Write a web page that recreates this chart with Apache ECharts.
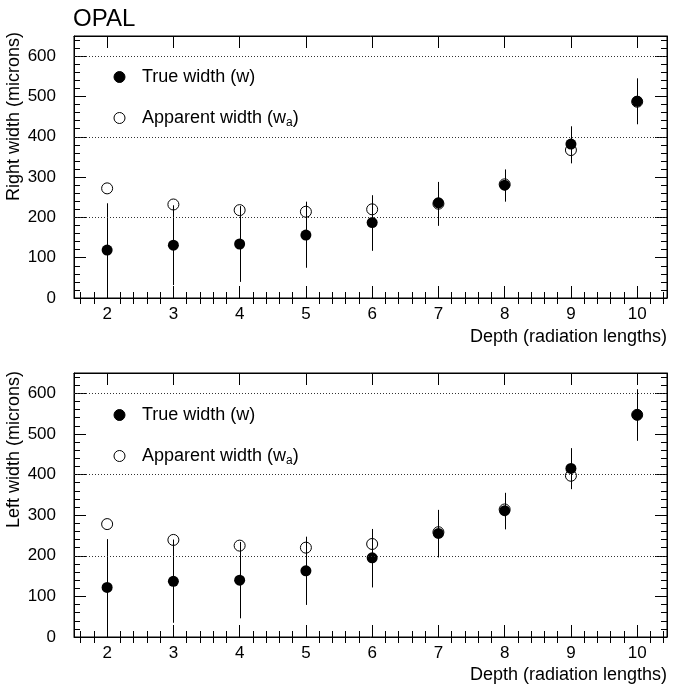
<!DOCTYPE html>
<html><head><meta charset="utf-8">
<script src="https://cdn.jsdelivr.net/npm/echarts@6/dist/echarts.min.js"></script>
<style>html,body{margin:0;padding:0;background:#fff}#c{width:673px;height:685px}</style>
</head><body><div id="c"></div>
<script>
// ---- data ----
const depth = [2, 3, 4, 5, 6, 7, 8, 9, 10];

const rightTrue    = [119, 131, 134, 156, 187, 236, 280, 382, 488];
const rightApp     = [272, 232, 218, 214, 220, 234, 282, 367, 487];
const rightErrLow  = [0, 32, 40, 75, 117, 179, 239, 334, 431];
const rightErrHigh = [235, 230, 228, 239, 255, 288, 319, 426, 545];

const leftTrue    = [122, 137, 140, 163, 195, 255, 311, 415, 547];
const leftApp     = [278, 239, 225, 220, 229, 258, 314, 397, 547];
const leftErrLow  = [0, 35, 46, 79, 122, 196, 265, 364, 483];
const leftErrHigh = [241, 240, 234, 247, 266, 313, 355, 465, 610];

const xMajor = [2, 3, 4, 5, 6, 7, 8, 9, 10];
const yMajor = [0, 100, 200, 300, 400, 500, 600];
const gridLines = [200, 400, 600];

const nameTrue = 'True width (w)';
const nameApp = 'Apparent width (wa)';
const xTitle = 'Depth (radiation lengths)';
const yTitles = ['Right width (microns)', 'Left width (microns)'];

const xMinor = [];
for (let k = 8; k <= 52; k++) { if (k % 5 !== 0) xMinor.push(k * 2 / 10); }
const yMinor = [];
for (let v = 20; v <= 640; v += 20) { if (v % 100 !== 0) yMinor.push(v); }

// ---- chart ----
const FONT = '"Liberation Sans", Arial, Helvetica, sans-serif';
const FS = 17;
const FT = 18;
const XMIN = 1.5, XMAX = 10.45, YMIN = 0, YMAX = 650;

const grids = [
  { left: 74, right: 6, top: 36, height: 262 },
  { left: 74, right: 6, top: 373, height: 264 }
];

function xAxes(g) {
  const base = { type: 'value', gridIndex: g, min: XMIN, max: XMAX, splitLine: { show: false } };
  const line = { show: true, onZero: false, lineStyle: { color: '#000', width: 1 } };
  return [
    Object.assign({}, base, { position: 'bottom', axisLine: line,
      axisTick: { show: true, inside: true, length: 12, customValues: xMajor, lineStyle: { color: '#000' } },
      axisLabel: { show: true, customValues: xMajor, margin: 8, fontSize: FS, fontFamily: FONT, color: '#000' } }),
    Object.assign({}, base, { position: 'bottom', axisLine: { show: false },
      axisTick: { show: true, inside: true, length: 6, customValues: xMinor, lineStyle: { color: '#000' } },
      axisLabel: { show: false } }),
    Object.assign({}, base, { position: 'top', axisLine: line,
      axisTick: { show: true, inside: true, length: 12, customValues: xMajor, lineStyle: { color: '#000' } },
      axisLabel: { show: false } }),
    Object.assign({}, base, { position: 'top', axisLine: { show: false },
      axisTick: { show: true, inside: true, length: 6, customValues: xMinor, lineStyle: { color: '#000' } },
      axisLabel: { show: false } })
  ];
}
function yAxes(g) {
  const base = { type: 'value', gridIndex: g, min: YMIN, max: YMAX, splitLine: { show: false } };
  const line = { show: true, onZero: false, lineStyle: { color: '#000', width: 1 } };
  return [
    Object.assign({}, base, { position: 'left', axisLine: line,
      axisTick: { show: true, inside: true, length: 12, customValues: yMajor, lineStyle: { color: '#000' } },
      axisLabel: { show: true, customValues: yMajor, margin: 18, fontSize: FS, fontFamily: FONT, color: '#000' } }),
    Object.assign({}, base, { position: 'left', axisLine: { show: false },
      axisTick: { show: true, inside: true, length: 6, customValues: yMinor, lineStyle: { color: '#000' } },
      axisLabel: { show: false } }),
    Object.assign({}, base, { position: 'right', axisLine: line,
      axisTick: { show: true, inside: true, length: 12, customValues: yMajor, lineStyle: { color: '#000' } },
      axisLabel: { show: false } }),
    Object.assign({}, base, { position: 'right', axisLine: { show: false },
      axisTick: { show: true, inside: true, length: 6, customValues: yMinor, lineStyle: { color: '#000' } },
      axisLabel: { show: false } })
  ];
}

function panelSeries(g, tru, app, lo, hi) {
  const ai = 4 * g;
  return [
    {
      type: 'custom', xAxisIndex: ai, yAxisIndex: ai, silent: true, clip: true, z: 2,
      data: depth.map((d, i) => [d, lo[i], hi[i]]),
      encode: { x: 0, y: [1, 2] },
      renderItem: function (params, api) {
        const a = api.coord([api.value(0), api.value(1)]);
        const b = api.coord([api.value(0), api.value(2)]);
        const x = Math.round(a[0]) + 0.5;
        return { type: 'line', shape: { x1: x, y1: a[1], x2: x, y2: b[1] },
          style: { stroke: '#000', lineWidth: 1 } };
      }
    },
    {
      name: nameApp, type: 'scatter', xAxisIndex: ai, yAxisIndex: ai, z: 3,
      symbol: 'circle', symbolSize: 11,
      itemStyle: { color: 'rgba(255,255,255,0)', borderColor: '#000', borderWidth: 1, opacity: 1 },
      emphasis: { disabled: true },
      data: depth.map((d, i) => [d, app[i]])
    },
    {
      name: nameTrue, type: 'scatter', xAxisIndex: ai, yAxisIndex: ai, z: 4,
      symbol: 'circle', symbolSize: 11,
      itemStyle: { color: '#000', borderColor: '#000', borderWidth: 0, opacity: 1 },
      emphasis: { disabled: true },
      data: depth.map((d, i) => [d, tru[i]]),
      markLine: {
        silent: true, symbol: 'none', animation: false,
        label: { show: false },
        lineStyle: { type: [1, 2], color: '#333', width: 1, opacity: 1 },
        data: gridLines.map(v => ({ yAxis: v }))
      }
    }
  ];
}

function legendFor(name, top, isApp) {
  return {
    data: [name], left: 113.5, top: top, orient: 'vertical',
    itemWidth: 35, itemHeight: 11, padding: 0, selectedMode: false,
    itemStyle: { borderWidth: 1, borderColor: '#000' },
    textStyle: { fontSize: FT, fontFamily: FONT, color: '#000', lineHeight: 20,
      rich: {
        n: { fontSize: FT, fontFamily: FONT, color: '#000', lineHeight: 20 },
        s: { fontSize: 12, fontFamily: FONT, color: '#000', lineHeight: 20, padding: [10, 0, 0, 0] }
      } },
    formatter: isApp ? function () { return '{n|Apparent width (w}{s|a}{n|)}'; } : function (n) { return n; }
  };
}

const chart = echarts.init(document.getElementById('c'), null, { renderer: 'canvas' });
chart.setOption({
  animation: false,
  backgroundColor: '#fff',
  grid: grids.map(g => Object.assign({ show: true, borderColor: '#000', borderWidth: 1, backgroundColor: 'transparent' }, g)),
  xAxis: xAxes(0).concat(xAxes(1)),
  yAxis: yAxes(0).concat(yAxes(1)),
  legend: [
    legendFor(nameTrue, 67, false),
    legendFor(nameApp, 107, true),
    legendFor(nameTrue, 405, false),
    legendFor(nameApp, 445, true)
  ],
  series: panelSeries(0, rightTrue, rightApp, rightErrLow, rightErrHigh)
    .concat(panelSeries(1, leftTrue, leftApp, leftErrLow, leftErrHigh)),
  graphic: [
    { type: 'text', x: 73, y: 19, style: { text: 'OPAL', font: '24px ' + FONT, fill: '#000', textAlign: 'left', textVerticalAlign: 'middle' } },
    { type: 'text', x: 14, y: 32, rotation: Math.PI / 2, style: { text: yTitles[0], font: FT + 'px ' + FONT, fill: '#000', textAlign: 'right', textVerticalAlign: 'middle' } },
    { type: 'text', x: 14, y: 371, rotation: Math.PI / 2, style: { text: yTitles[1], font: FT + 'px ' + FONT, fill: '#000', textAlign: 'right', textVerticalAlign: 'middle' } },
    { type: 'text', x: 667, y: 337, style: { text: xTitle, font: FT + 'px ' + FONT, fill: '#000', textAlign: 'right', textVerticalAlign: 'middle' } },
    { type: 'text', x: 667, y: 675, style: { text: xTitle, font: FT + 'px ' + FONT, fill: '#000', textAlign: 'right', textVerticalAlign: 'middle' } }
  ]
});
</script>
</body></html>
